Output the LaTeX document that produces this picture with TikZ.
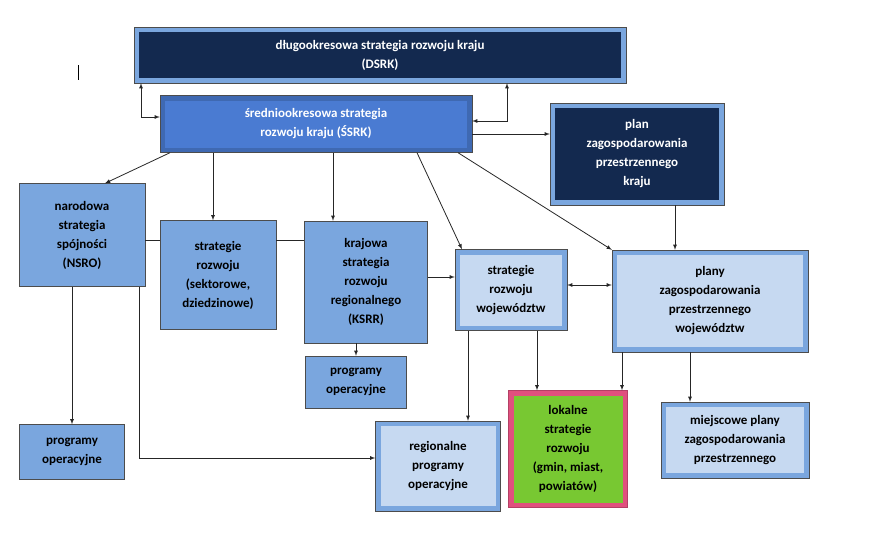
\documentclass[tikz,border=0pt]{standalone}
\usepackage{fontspec}
\setmainfont{Carlito}
\begin{document}
\begin{tikzpicture}[x=1pt,y=-1pt,
  font=\bfseries\fontsize{13}{19}\selectfont, >=latex,
  box/.style={rectangle, draw=black!70, align=center, inner sep=2pt},
  plainbox/.style={box, fill=mid},
  framebox/.style={box, fill=mid, path picture={\fill[#1]
    ([shift={(5pt,5pt)}]path picture bounding box.south west) rectangle
    ([shift={(-5pt,-5pt)}]path picture bounding box.north east);}},
  link/.style={draw=black!85, thick}]
\definecolor{mid}{HTML}{7AA6DE}
\definecolor{pale}{HTML}{C6D9F1}
\definecolor{navy}{HTML}{13294F}
\definecolor{royal}{HTML}{4A7BD2}
\definecolor{rose}{HTML}{E0507E}
\definecolor{lime}{HTML}{78C832}
\useasboundingbox (0,0) rectangle (874,546);
% boxes
\node[framebox=navy, text=white, minimum width=492, minimum height=56] (dsrk) at (380,55)
  {długookresowa strategia rozwoju kraju\\(DSRK)};
\node[framebox=royal, fill=royal!85!black, text=white, minimum width=312, minimum height=57] (ssrk) at (316,124)
  {średniookresowa strategia\\rozwoju kraju (ŚSRK)};
\node[framebox=navy, text=white, minimum width=174, minimum height=102] (plan) at (637,154)
  {plan\\zagospodarowania\\przestrzennego\\kraju};
\node[plainbox, minimum width=126, minimum height=103] (nsro) at (82,235)
  {narodowa\\strategia\\spójności\\(NSRO)};
\node[plainbox, minimum width=116, minimum height=109] (sekt) at (218,275)
  {strategie\\rozwoju\\(sektorowe,\\dziedzinowe)};
\node[plainbox, minimum width=123, minimum height=122] (ksrr) at (366,282)
  {krajowa\\strategia\\rozwoju\\regionalnego\\(KSRR)};
\node[framebox=pale, minimum width=112, minimum height=81] (woj) at (511,290)
  {strategie\\rozwoju\\województw};
\node[framebox=pale, minimum width=196, minimum height=102] (plany) at (710,301)
  {plany\\zagospodarowania\\przestrzennego\\województw};
\node[plainbox, minimum width=101, minimum height=52] (progk) at (356,382)
  {programy\\operacyjne};
\node[plainbox, minimum width=105, minimum height=55] (progn) at (72,452)
  {programy\\operacyjne};
\node[framebox=pale, minimum width=125, minimum height=90] (reg) at (438,466)
  {regionalne\\programy\\operacyjne};
\node[framebox=lime, fill=rose, draw=rose!80!black, minimum width=119, minimum height=117] (lok) at (568,449)
  {lokalne\\strategie\\rozwoju\\(gmin, miast,\\powiatów)};
\node[framebox=pale, minimum width=148, minimum height=76] (miej) at (735,440)
  {miejscowe plany\\zagospodarowania\\przestrzennego};
% cursor mark
\draw[thick] (78,65) -- (78,80);
% connectors
\draw[link,<->] (dsrk.south west -| 141,0) -- (141,117) -- (ssrk.west |- 0,117);
\draw[link,<->] (dsrk.south west -| 507,0) -- (507,121) -- (ssrk.east |- 0,121);
\draw[link,->] (ssrk.east |- 0,134) -- (plan.west |- 0,134);
\draw[link,->] (ssrk.south west -| 170,0) -- (nsro.north east -| 105,0);
\draw[link,->] (ssrk.south -| 213,0) -- (sekt.north -| 213,0);
\draw[link,->] (ssrk.south -| 333,0) -- (ksrr.north -| 333,0);
\draw[link,->] (ssrk.south -| 417,0) -- (woj.north -| 462,0);
\draw[link,->] (ssrk.south -| 458,0) -- (plany.north west);
\draw[link,->] (plan.south -| 675,0) -- (plany.north -| 675,0);
\draw[link] (nsro.east |- 0,240) -- (sekt.west |- 0,240);
\draw[link] (sekt.east |- 0,240) -- (ksrr.west |- 0,240);
\draw[link,->] (ksrr.east |- 0,277) -- (woj.west |- 0,277);
\draw[link,<->] (woj.east |- 0,285) -- (plany.west |- 0,285);
\draw[link,->] (ksrr.south -| 356,0) -- (progk.north);
\draw[link,->] (nsro.south -| 72,0) -- (progn.north);
\draw[link,->] (nsro.south -| 139,0) -- (139,458) -- (reg.west |- 0,458);
\draw[link,->] (woj.south -| 468,0) -- (reg.north -| 468,0);
\draw[link,->] (woj.south -| 537,0) -- (lok.north -| 537,0);
\draw[link,->] (plany.south -| 622,0) -- (lok.north -| 622,0);
\draw[link,->] (plany.south -| 690,0) -- (miej.north -| 690,0);
\end{tikzpicture}
\end{document}
